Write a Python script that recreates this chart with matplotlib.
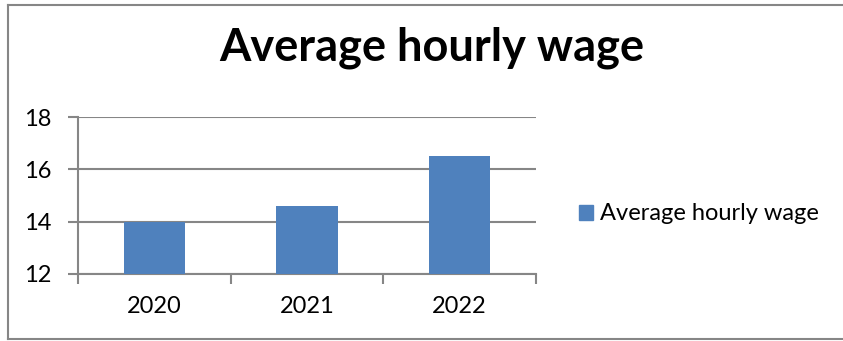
import matplotlib
matplotlib.use("Agg")
from matplotlib import pyplot as plt
from matplotlib.patches import Rectangle
from matplotlib.lines import Line2D

years = ["2020", "2021", "2022"]
wages = [14.0, 14.6, 16.5]
series_name = "Average hourly wage"
y_ticks = [12, 14, 16, 18]

BAR_COLOR = "#4F81BD"
GRID_COLOR = "#868686"

plt.rcParams["font.family"] = ["Lato", "DejaVu Sans"]

fig = plt.figure(figsize=(8.43, 3.41), dpi=100)
W, H = 843, 341

# chart area frame (left, top and bottom edges)
for xs, ys in [((8 / W, 8 / W), (2 / H, 1 - 5 / H)),
               ((8 / W, 1.0), (1 - 5 / H, 1 - 5 / H)),
               ((8 / W, 1.0), (2 / H, 2 / H))]:
    fig.add_artist(Line2D(xs, ys, color=GRID_COLOR, lw=1.5, transform=fig.transFigure))

ax = fig.add_axes([78 / W, 1 - 274 / H, (536 - 78) / W, (274 - 117) / H])
x = range(len(years))
ax.bar(x, [w - y_ticks[0] for w in wages], bottom=y_ticks[0], width=0.4,
       color=BAR_COLOR, zorder=3)

ax.set_xlim(-0.5, len(years) - 0.5)
ax.set_ylim(y_ticks[0], y_ticks[-1])
ax.set_yticks(y_ticks)
ax.set_yticklabels([str(t) for t in y_ticks], fontsize=17)
ax.set_xticks([i - 0.5 for i in range(len(years) + 1)], minor=False)
ax.set_xticklabels([])
ax.set_xticks(list(x), minor=True)
ax.set_xticklabels(years, minor=True, fontsize=17)
ax.tick_params(axis="x", which="major", length=7, width=1.5, color=GRID_COLOR, direction="out")
ax.tick_params(axis="x", which="minor", length=0, pad=16)
ax.tick_params(axis="y", length=7, width=1.5, color=GRID_COLOR, pad=12)
ax.grid(axis="y", color=GRID_COLOR, lw=1.5, zorder=0)
for side in ["top", "right"]:
    ax.spines[side].set_visible(False)
for side in ["left", "bottom"]:
    ax.spines[side].set_color(GRID_COLOR)
    ax.spines[side].set_linewidth(1.5)

fig.text(432 / W, 1 - 48 / H, series_name, ha="center", va="center",
         fontsize=32.5, fontweight="bold")

fig.legend(handles=[Rectangle((0, 0), 1, 1, color=BAR_COLOR)], labels=[series_name],
           loc="center left", bbox_to_anchor=(558 / W, 1 - 214 / H), frameon=False,
           fontsize=17, handlelength=0.6, handleheight=0.6, handletextpad=0.3)

fig.savefig("out.png", dpi=100, facecolor="white")
